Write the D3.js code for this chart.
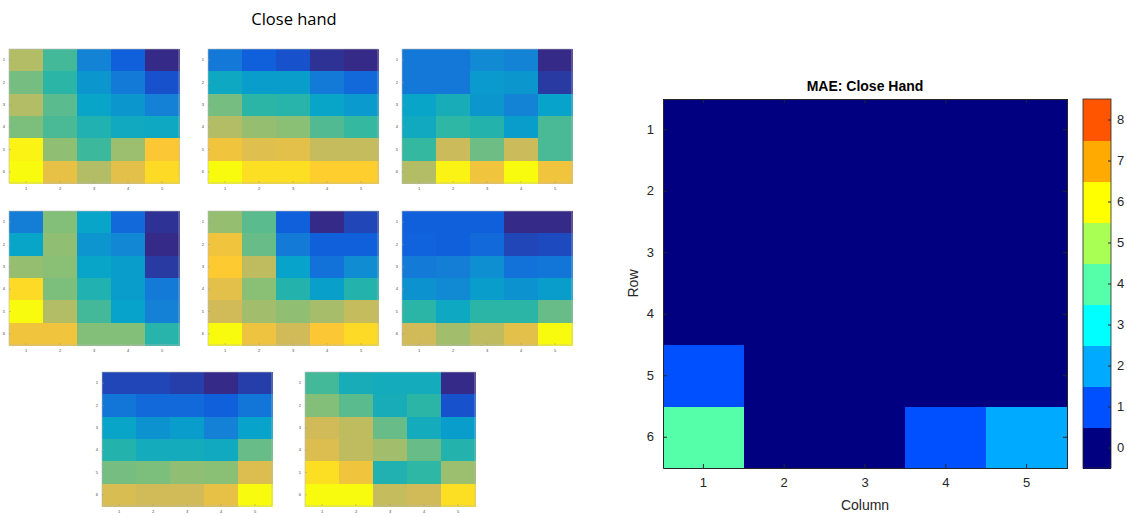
<!DOCTYPE html>
<html><head><meta charset="utf-8">
<script src="https://cdn.jsdelivr.net/npm/d3@7"></script>
<style>body{margin:0;background:#fff}svg{display:block;font-family:"Liberation Sans",Arial,sans-serif}</style>
</head><body><svg id="c" width="1127" height="517"></svg>
<script>
// ---------- data ----------
const rowLabels = [1, 2, 3, 4, 5, 6];
const colLabels = [1, 2, 3, 4, 5];
const cbTicks = [0, 1, 2, 3, 4, 5, 6, 7, 8];

// normalised (0..1) values of the eight "Close hand" trials
const hand1 = [[0.70,0.53,0.26,0.14,0.00],[0.60,0.49,0.33,0.23,0.10],[0.70,0.56,0.38,0.33,0.25],[0.61,0.54,0.46,0.41,0.40],[0.98,0.64,0.52,0.66,0.87],[1.00,0.81,0.70,0.80,0.92]];
const hand2 = [[0.22,0.14,0.10,0.02,0.00],[0.40,0.35,0.35,0.23,0.17],[0.60,0.49,0.48,0.38,0.34],[0.70,0.65,0.63,0.55,0.51],[0.84,0.79,0.80,0.73,0.73],[1.00,0.93,0.93,0.89,0.89]];
const hand3 = [[0.22,0.22,0.28,0.26,0.00],[0.22,0.22,0.34,0.33,0.04],[0.38,0.43,0.33,0.26,0.37],[0.41,0.50,0.47,0.35,0.54],[0.51,0.74,0.59,0.74,0.54],[0.70,0.98,0.84,1.00,0.84]];
const hand4 = [[0.24,0.62,0.38,0.17,0.02],[0.38,0.64,0.32,0.27,0.00],[0.65,0.63,0.38,0.35,0.04],[0.92,0.61,0.46,0.35,0.23],[1.00,0.70,0.53,0.37,0.25],[0.84,0.84,0.62,0.62,0.48]];
const hand5 = [[0.65,0.56,0.14,0.00,0.07],[0.84,0.58,0.23,0.14,0.14],[0.88,0.72,0.37,0.20,0.29],[0.80,0.63,0.47,0.36,0.47],[0.75,0.67,0.64,0.68,0.73],[1.00,0.83,0.75,0.87,0.92]];
const hand6 = [[0.14,0.14,0.14,0.00,0.00],[0.15,0.14,0.17,0.07,0.08],[0.23,0.24,0.30,0.20,0.21],[0.31,0.28,0.35,0.31,0.35],[0.49,0.40,0.49,0.49,0.58],[0.75,0.67,0.72,0.80,1.00]];
const hand7 = [[0.07,0.07,0.05,0.00,0.05],[0.21,0.17,0.17,0.14,0.21],[0.38,0.31,0.35,0.25,0.37],[0.47,0.42,0.42,0.41,0.58],[0.60,0.61,0.64,0.63,0.78],[0.77,0.75,0.75,0.81,1.00]];
const hand8 = [[0.53,0.43,0.42,0.42,0.00],[0.62,0.56,0.43,0.49,0.10],[0.75,0.72,0.58,0.42,0.35],[0.78,0.72,0.67,0.58,0.47],[0.93,0.84,0.46,0.50,0.66],[1.00,1.00,0.73,0.75,0.93]];

// MAE per cell
const mae = [[0,0,0,0,0],[0,0,0,0,0],[0,0,0,0,0],[0,0,0,0,0],[1,0,0,0,0],[4,0,0,1,2]];

// ---------- colours ----------
const parulaStops = ["#352a87","#0f5cdd","#1481d6","#06a4ca","#2eb7a4","#87bf77","#d1bb59","#fec832","#f9fb0e"];
const parula = d3.scaleSequential(d3.piecewise(d3.interpolateRgb, parulaStops)).domain([0,1]);
const jet9 = ["#000080","#0050ff","#00aaff","#00ffff","#55ffaa","#aaff55","#ffff00","#ffaa00","#ff5500"];
const maeColor = d3.scaleOrdinal().domain(cbTicks).range(jet9);

const svg = d3.select("#c");

// ---------- left figure ----------
svg.append("text").attr("x",294).attr("y",25).attr("text-anchor","middle")
  .attr("font-size",16.5).attr("font-family","'Open Sans',sans-serif").attr("fill","#000").text("Close hand");

const maps = [hand1,hand2,hand3,hand4,hand5,hand6,hand7,hand8];
const boxes = [[9,49],[208,49],[402,49],[9,211],[208,211],[402,211],[102,372],[305,372]];
const sw = 170, sh = 134;

maps.forEach((m,i)=>{
  const [x0,y0] = boxes[i];
  const g = svg.append("g").attr("transform",`translate(${x0},${y0})`);
  const x = d3.scaleBand().domain(colLabels).range([0,sw]);
  const y = d3.scaleBand().domain(rowLabels).range([0,sh]);
  m.forEach((row,r)=>row.forEach((v,c)=>{
    g.append("rect").attr("x",x(colLabels[c])).attr("y",y(rowLabels[r]))
      .attr("width",x.bandwidth()+0.5).attr("height",y.bandwidth()+0.5).attr("fill",parula(v))
      .attr("shape-rendering","crispEdges");
  }));
  g.append("rect").attr("width",sw).attr("height",sh).attr("fill","none").attr("stroke","#bbb").attr("stroke-width",0.6);
  const ax = g.append("g").attr("transform",`translate(0,${sh})`).call(d3.axisBottom(x).tickSize(-2).tickPadding(4));
  const ay = g.append("g").call(d3.axisLeft(y).tickSize(-2).tickPadding(4));
  [ax,ay].forEach(a=>{
    a.select(".domain").remove();
    a.selectAll("line").attr("stroke","#999").attr("stroke-width",0.5);
    a.selectAll("text").attr("font-size",4).attr("fill","#444");
  });
});

// ---------- right figure ----------
const L = 663, R = 1067, T = 99, B = 468;
const x = d3.scaleBand().domain(colLabels).range([L,R]);
const y = d3.scaleBand().domain(rowLabels).range([T,B]);
const gr = svg.append("g");
mae.forEach((row,r)=>row.forEach((v,c)=>{
  gr.append("rect").attr("x",x(colLabels[c])).attr("y",y(rowLabels[r]))
    .attr("width",x.bandwidth()+1).attr("height",y.bandwidth()+1).attr("fill",maeColor(v))
    .attr("shape-rendering","crispEdges");
}));
const axc = "#262626";
function styleAxis(a, showText){
  a.select(".domain").attr("stroke",axc);
  a.selectAll(".tick line").attr("stroke",axc);
  a.selectAll("text").attr("font-size",13).attr("fill",axc);
  if(!showText) a.selectAll("text").remove();
}
styleAxis(svg.append("g").attr("transform",`translate(0,${B})`).call(d3.axisBottom(x).tickSize(-4).tickSizeOuter(0).tickPadding(10)), true);
styleAxis(svg.append("g").attr("transform",`translate(${L},0)`).call(d3.axisLeft(y).tickSize(-4).tickSizeOuter(0).tickPadding(9)), true);
styleAxis(svg.append("g").attr("transform",`translate(0,${T})`).call(d3.axisTop(x).tickSize(-4).tickSizeOuter(0)), false);
styleAxis(svg.append("g").attr("transform",`translate(${R},0)`).call(d3.axisRight(y).tickSize(-4).tickSizeOuter(0)), false);

svg.append("text").attr("x",(L+R)/2).attr("y",91).attr("text-anchor","middle")
  .attr("font-size",14).attr("font-weight","bold").attr("fill","#000").text("MAE: Close Hand");
svg.append("text").attr("x",(L+R)/2).attr("y",510).attr("text-anchor","middle")
  .attr("font-size",14).attr("fill",axc).text("Column");
svg.append("text").attr("transform",`translate(638,${(T+B)/2}) rotate(-90)`).attr("text-anchor","middle")
  .attr("font-size",14).attr("fill",axc).text("Row");

// colorbar
const cL = 1083, cR = 1111;
const cy = d3.scaleLinear().domain([-0.5,8.5]).range([B,T]);
cbTicks.forEach(t=>{
  svg.append("rect").attr("x",cL).attr("y",cy(t+0.5)).attr("width",cR-cL).attr("height",cy(t-0.5)-cy(t+0.5)+0.5)
    .attr("fill",maeColor(t)).attr("shape-rendering","crispEdges");
});
svg.append("rect").attr("x",cL).attr("y",T).attr("width",cR-cL).attr("height",B-T).attr("fill","none").attr("stroke",axc).attr("stroke-width",0.8);
const cb = svg.append("g").attr("transform",`translate(${cR},0)`).call(d3.axisRight(cy).tickValues(cbTicks).tickSize(-3).tickSizeOuter(0).tickPadding(6));
cb.select(".domain").remove();
cb.selectAll(".tick line").attr("stroke",axc);
cb.selectAll("text").attr("font-size",13).attr("fill",axc);
</script></body></html>
